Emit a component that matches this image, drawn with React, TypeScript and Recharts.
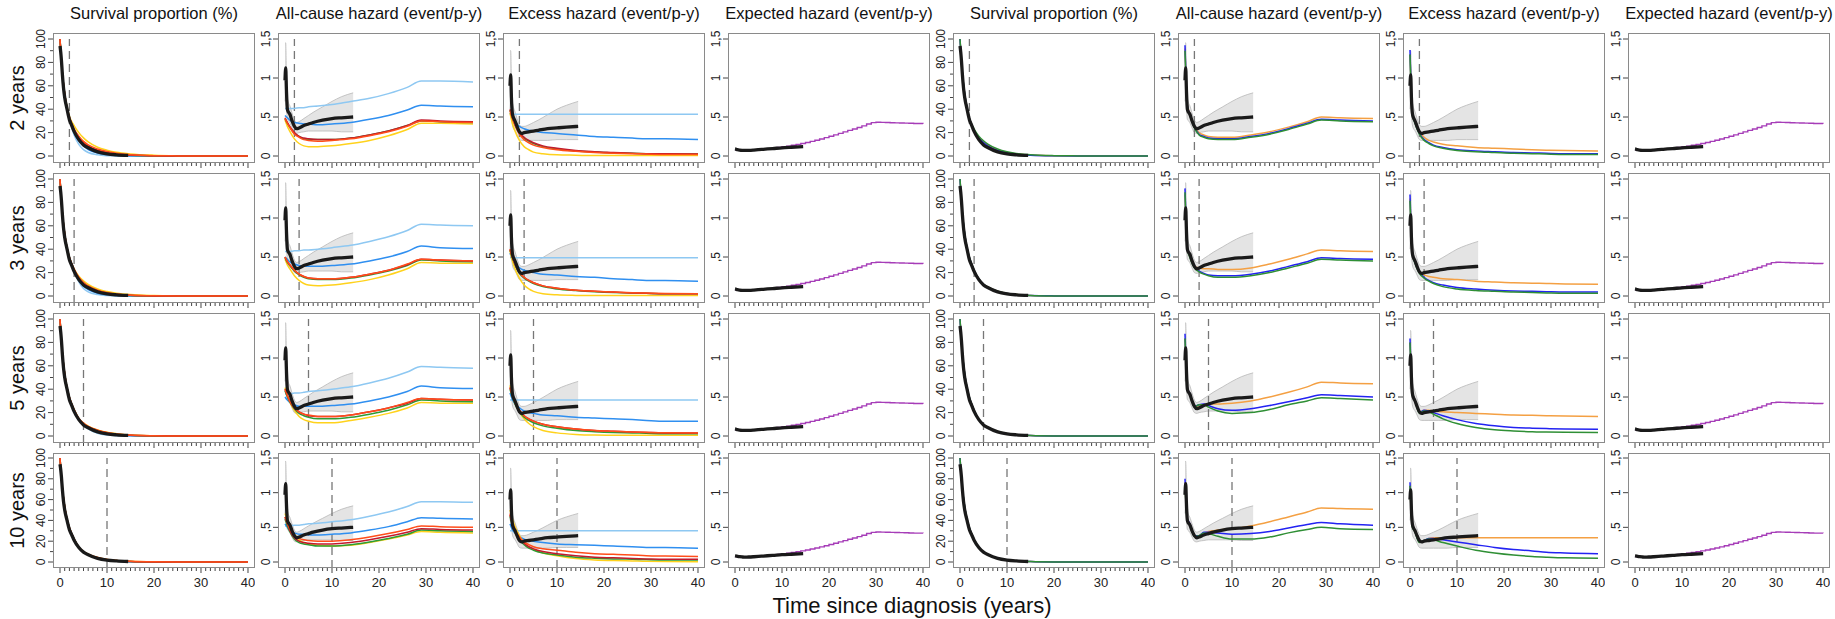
import React from "react";
import { ComposedChart, Line, Area, XAxis, YAxis, ReferenceLine } from "recharts";

// time grids (years since diagnosis)
const T_OBS = [0, 0.15, 0.3, 0.5, 0.75, 1, 1.5, 2, 2.5, 3, 4, 5, 6, 8, 10, 12, 14.5];
const T_SURV = [0, 0.5, 1, 1.5, 2, 3, 4, 5, 6, 8, 10, 12, 15, 20, 25, 30, 40];
const T_HAZ = [0, 0.5, 1, 2, 3, 4, 5, 7, 10, 14, 18, 22, 26, 29, 33, 40];
const YEARS = [0, 1, 2, 3, 4, 5, 6, 7, 8, 9, 10, 11, 12, 13, 14, 15, 16, 17, 18, 19, 20, 21, 22, 23, 24, 25, 26, 27, 28, 29, 30, 31, 32, 33, 34, 35, 36, 37, 38, 39, 40];

const HORIZONS = [2, 3, 5, 10];
const TITLES = [
  "Survival proportion (%)",
  "All-cause hazard (event/p-y)",
  "Excess hazard (event/p-y)",
  "Expected hazard (event/p-y)",
];

// observed (black) curves, identical in every row
const obsSurv = [94, 89, 82, 70, 58, 50, 40, 31, 26, 21, 14, 9.5, 7, 3.5, 1.8, 1, 0.5];
const obsAll = [0.97, 1.13, 0.85, 0.6, 0.56, 0.54, 0.45, 0.38, 0.35, 0.36, 0.39, 0.41, 0.43, 0.46, 0.48, 0.49, 0.5];
const obsAllLo = [0.7, 0.85, 0.65, 0.47, 0.45, 0.43, 0.36, 0.3, 0.29, 0.3, 0.31, 0.32, 0.32, 0.32, 0.32, 0.31, 0.31];
const obsAllHi = [1.45, 1.45, 1.05, 0.75, 0.68, 0.65, 0.55, 0.46, 0.43, 0.44, 0.48, 0.52, 0.56, 0.63, 0.7, 0.76, 0.81];
const obsExc = [0.9, 1.04, 0.75, 0.55, 0.49, 0.46, 0.38, 0.31, 0.29, 0.3, 0.31, 0.32, 0.33, 0.35, 0.36, 0.37, 0.38];
const obsExcLo = [0.6, 0.75, 0.55, 0.4, 0.35, 0.33, 0.27, 0.21, 0.2, 0.2, 0.2, 0.2, 0.2, 0.2, 0.21, 0.21, 0.21];
const obsExcHi = [1.35, 1.35, 1.0, 0.7, 0.62, 0.58, 0.48, 0.4, 0.38, 0.38, 0.4, 0.43, 0.46, 0.53, 0.6, 0.65, 0.7];
const obsExp = [0.09, 0.088, 0.085, 0.082, 0.078, 0.076, 0.073, 0.071, 0.071, 0.072, 0.076, 0.081, 0.086, 0.095, 0.105, 0.112, 0.12];

// population expected hazard, yearly life-table steps
const popExpected = [
  0.08, 0.076, 0.075, 0.077, 0.08, 0.084, 0.089, 0.095, 0.102, 0.11, 0.118, 0.127, 0.137, 0.148, 0.16,
  0.173, 0.187, 0.202, 0.218, 0.235, 0.253, 0.271, 0.29, 0.309, 0.328, 0.347, 0.366, 0.386, 0.41, 0.428,
  0.432, 0.431, 0.429, 0.427, 0.425, 0.423, 0.421, 0.419, 0.417, 0.416, 0.415,
];

// left models: light blue, blue, gold, green, dark red, orange-red
const LEFT_COLORS = ["#8ec8f2", "#2f8ff0", "#ffd21c", "#2e9b35", "#c21a2d", "#ff4d1a"];
// right models: orange, blue, green
const RIGHT_COLORS = ["#f4a043", "#2323f2", "#2f8f35"];

const survL2 = [
  [100, 71, 53, 41, 32, 18, 10, 5.5, 3, 1, 0.3, 0.1, 0, 0, 0, 0, 0],
  [100, 71, 53, 41, 32, 20, 13, 8.5, 5.5, 2.5, 1.2, 0.5, 0.1, 0, 0, 0, 0],
  [100, 71, 53, 42, 34, 26, 20, 15.5, 12, 7.5, 5, 3.2, 1.8, 0.7, 0.25, 0.1, 0],
  [100, 71, 53, 41, 33, 22, 15.5, 11, 8, 4.5, 2.6, 1.5, 0.6, 0.1, 0, 0, 0],
  [100, 71, 53, 41, 33, 22.5, 16, 11.5, 8.5, 5, 3, 1.8, 0.8, 0.2, 0, 0, 0],
  [100, 71, 53, 41, 33, 23, 17, 12.5, 9.5, 6, 3.8, 2.4, 1.1, 0.3, 0.1, 0, 0],
];
const survL3 = [
  [100, 71, 53, 41, 33, 22, 12, 6.5, 3.5, 1.2, 0.4, 0.1, 0, 0, 0, 0, 0],
  [100, 71, 53, 41, 33, 22, 13.5, 8.5, 5.5, 2.4, 1, 0.4, 0.1, 0, 0, 0, 0],
  [100, 71, 53, 41, 33, 23, 17, 13, 10, 6, 3.8, 2.4, 1.2, 0.4, 0.1, 0, 0],
  [100, 71, 53, 41, 33, 22.5, 15.5, 11, 8, 4.4, 2.4, 1.3, 0.5, 0.1, 0, 0, 0],
  [100, 71, 53, 41, 33, 22.5, 15.5, 11, 8.2, 4.6, 2.6, 1.5, 0.6, 0.1, 0, 0, 0],
  [100, 71, 53, 41, 33, 23, 16, 11.5, 8.6, 5, 2.9, 1.7, 0.7, 0.15, 0, 0, 0],
];
const survL5 = [
  [100, 71, 53, 41, 33, 22, 14, 9.5, 6, 2.3, 0.8, 0.3, 0.05, 0, 0, 0, 0],
  [100, 71, 53, 41, 33, 22, 14.5, 10, 7, 3.5, 1.7, 0.8, 0.25, 0, 0, 0, 0],
  [100, 71, 53, 41, 33, 22.5, 15, 11, 8.5, 5.2, 3.2, 2, 0.9, 0.25, 0.05, 0, 0],
  [100, 71, 53, 41, 33, 22, 14.5, 10.5, 7.8, 4.5, 2.6, 1.5, 0.6, 0.1, 0, 0, 0],
  [100, 71, 53, 41, 33, 22, 14.5, 10.5, 8, 4.7, 2.8, 1.6, 0.7, 0.15, 0, 0, 0],
  [100, 71, 53, 41, 33, 22.5, 15, 11, 8.3, 5, 3, 1.8, 0.8, 0.2, 0, 0, 0],
];
const survL10 = [
  [100, 71, 53, 41, 33, 22, 14, 9.5, 6.8, 3.3, 1.5, 0.6, 0.15, 0, 0, 0, 0],
  [100, 71, 53, 41, 33, 22, 14, 9.5, 7, 3.8, 2, 1, 0.35, 0.05, 0, 0, 0],
  [100, 71, 53, 41, 33, 22, 14.5, 10, 7.5, 4.3, 2.5, 1.5, 0.7, 0.15, 0, 0, 0],
  [100, 71, 53, 41, 33, 22, 14, 9.5, 7, 3.8, 2, 1.1, 0.4, 0.05, 0, 0, 0],
  [100, 71, 53, 41, 33, 22, 14, 9.7, 7.2, 4, 2.2, 1.2, 0.5, 0.1, 0, 0, 0],
  [100, 71, 53, 41, 33, 22, 14.3, 10, 7.5, 4.3, 2.5, 1.5, 0.7, 0.15, 0.03, 0, 0],
];

const allL2 = [
  [0.61, 0.61, 0.61, 0.61, 0.62, 0.62, 0.63, 0.64, 0.66, 0.7, 0.74, 0.8, 0.88, 0.96, 0.96, 0.95],
  [0.52, 0.49, 0.46, 0.43, 0.42, 0.41, 0.41, 0.4, 0.41, 0.43, 0.47, 0.52, 0.59, 0.65, 0.64, 0.63],
  [0.46, 0.38, 0.32, 0.22, 0.16, 0.13, 0.12, 0.12, 0.13, 0.16, 0.2, 0.26, 0.34, 0.42, 0.42, 0.41],
  [0.48, 0.42, 0.37, 0.29, 0.25, 0.22, 0.21, 0.21, 0.21, 0.23, 0.27, 0.32, 0.39, 0.45, 0.44, 0.43],
  [0.49, 0.43, 0.38, 0.3, 0.25, 0.23, 0.22, 0.21, 0.21, 0.23, 0.27, 0.32, 0.39, 0.46, 0.45, 0.44],
  [0.48, 0.42, 0.37, 0.28, 0.24, 0.21, 0.2, 0.19, 0.2, 0.22, 0.26, 0.31, 0.38, 0.45, 0.44, 0.43],
];
const allL3 = [
  [0.57, 0.57, 0.57, 0.58, 0.58, 0.59, 0.59, 0.6, 0.62, 0.65, 0.7, 0.76, 0.84, 0.92, 0.91, 0.9],
  [0.5, 0.47, 0.44, 0.41, 0.39, 0.38, 0.38, 0.38, 0.39, 0.41, 0.45, 0.5, 0.57, 0.64, 0.62, 0.61],
  [0.47, 0.4, 0.35, 0.26, 0.2, 0.16, 0.14, 0.13, 0.14, 0.17, 0.21, 0.27, 0.35, 0.43, 0.42, 0.42],
  [0.49, 0.43, 0.39, 0.32, 0.27, 0.24, 0.22, 0.21, 0.21, 0.23, 0.27, 0.32, 0.39, 0.46, 0.45, 0.44],
  [0.5, 0.44, 0.4, 0.33, 0.28, 0.25, 0.23, 0.22, 0.22, 0.24, 0.28, 0.33, 0.4, 0.47, 0.46, 0.45],
  [0.5, 0.44, 0.4, 0.33, 0.28, 0.25, 0.23, 0.22, 0.22, 0.24, 0.28, 0.33, 0.41, 0.47, 0.46, 0.45],
];
const allL5 = [
  [0.54, 0.54, 0.54, 0.55, 0.55, 0.56, 0.57, 0.58, 0.6, 0.63, 0.68, 0.74, 0.82, 0.89, 0.88, 0.87],
  [0.5, 0.46, 0.43, 0.4, 0.38, 0.38, 0.38, 0.38, 0.39, 0.41, 0.45, 0.5, 0.57, 0.64, 0.62, 0.61],
  [0.62, 0.52, 0.44, 0.33, 0.25, 0.21, 0.19, 0.17, 0.17, 0.2, 0.24, 0.29, 0.36, 0.43, 0.42, 0.42],
  [0.58, 0.5, 0.44, 0.35, 0.29, 0.26, 0.24, 0.22, 0.22, 0.24, 0.28, 0.33, 0.4, 0.46, 0.45, 0.44],
  [0.6, 0.52, 0.45, 0.36, 0.31, 0.28, 0.26, 0.25, 0.25, 0.27, 0.31, 0.36, 0.42, 0.48, 0.47, 0.46],
  [0.6, 0.52, 0.45, 0.36, 0.31, 0.28, 0.27, 0.25, 0.25, 0.27, 0.31, 0.36, 0.43, 0.48, 0.47, 0.46],
];
const allL10 = [
  [0.52, 0.52, 0.52, 0.53, 0.53, 0.54, 0.55, 0.56, 0.58, 0.61, 0.66, 0.72, 0.8, 0.87, 0.87, 0.86],
  [0.55, 0.5, 0.46, 0.42, 0.4, 0.4, 0.39, 0.39, 0.4, 0.42, 0.46, 0.51, 0.58, 0.64, 0.63, 0.62],
  [0.7, 0.6, 0.52, 0.4, 0.32, 0.28, 0.26, 0.24, 0.23, 0.24, 0.28, 0.33, 0.39, 0.44, 0.43, 0.42],
  [0.62, 0.52, 0.44, 0.33, 0.28, 0.26, 0.25, 0.23, 0.23, 0.25, 0.29, 0.34, 0.4, 0.46, 0.45, 0.44],
  [0.65, 0.55, 0.46, 0.35, 0.3, 0.28, 0.27, 0.26, 0.26, 0.28, 0.32, 0.37, 0.43, 0.48, 0.47, 0.46],
  [0.65, 0.56, 0.48, 0.38, 0.34, 0.32, 0.31, 0.3, 0.3, 0.32, 0.36, 0.41, 0.47, 0.52, 0.51, 0.5],
];

const excL2 = [
  [0.535, 0.535, 0.535, 0.535, 0.535, 0.535, 0.535, 0.535, 0.535, 0.535, 0.535, 0.535, 0.535, 0.535, 0.535, 0.535],
  [0.55, 0.48, 0.44, 0.38, 0.35, 0.33, 0.32, 0.3, 0.29, 0.27, 0.25, 0.24, 0.23, 0.22, 0.22, 0.21],
  [0.55, 0.42, 0.33, 0.2, 0.12, 0.08, 0.05, 0.03, 0.015, 0.01, 0.005, 0.005, 0.005, 0.005, 0.005, 0.005],
  [0.59, 0.49, 0.41, 0.29, 0.23, 0.19, 0.16, 0.12, 0.09, 0.065, 0.05, 0.04, 0.035, 0.03, 0.025, 0.025],
  [0.6, 0.5, 0.42, 0.3, 0.24, 0.2, 0.17, 0.13, 0.1, 0.07, 0.055, 0.045, 0.035, 0.03, 0.028, 0.025],
  [0.58, 0.48, 0.4, 0.28, 0.21, 0.17, 0.14, 0.11, 0.08, 0.06, 0.045, 0.035, 0.03, 0.025, 0.02, 0.02],
];
const excL3 = [
  [0.49, 0.49, 0.49, 0.49, 0.49, 0.49, 0.49, 0.49, 0.49, 0.49, 0.49, 0.49, 0.49, 0.49, 0.49, 0.49],
  [0.55, 0.47, 0.42, 0.36, 0.33, 0.31, 0.3, 0.28, 0.27, 0.25, 0.24, 0.22, 0.21, 0.2, 0.2, 0.19],
  [0.58, 0.45, 0.36, 0.23, 0.14, 0.09, 0.06, 0.03, 0.015, 0.008, 0.005, 0.005, 0.005, 0.005, 0.005, 0.005],
  [0.59, 0.49, 0.41, 0.29, 0.23, 0.19, 0.16, 0.12, 0.09, 0.07, 0.055, 0.045, 0.04, 0.035, 0.03, 0.03],
  [0.6, 0.5, 0.42, 0.3, 0.24, 0.2, 0.17, 0.13, 0.1, 0.075, 0.06, 0.05, 0.04, 0.035, 0.03, 0.03],
  [0.6, 0.5, 0.42, 0.3, 0.24, 0.2, 0.17, 0.13, 0.1, 0.075, 0.06, 0.05, 0.042, 0.037, 0.033, 0.03],
];
const excL5 = [
  [0.46, 0.46, 0.46, 0.46, 0.46, 0.46, 0.46, 0.46, 0.46, 0.46, 0.46, 0.46, 0.46, 0.46, 0.46, 0.46],
  [0.55, 0.47, 0.42, 0.36, 0.32, 0.3, 0.29, 0.27, 0.26, 0.24, 0.23, 0.22, 0.21, 0.2, 0.19, 0.19],
  [0.65, 0.53, 0.44, 0.31, 0.22, 0.16, 0.12, 0.07, 0.04, 0.02, 0.012, 0.01, 0.01, 0.01, 0.01, 0.01],
  [0.6, 0.5, 0.42, 0.31, 0.24, 0.2, 0.17, 0.13, 0.1, 0.07, 0.055, 0.045, 0.04, 0.035, 0.03, 0.03],
  [0.62, 0.52, 0.44, 0.33, 0.26, 0.22, 0.19, 0.15, 0.12, 0.09, 0.07, 0.06, 0.05, 0.045, 0.04, 0.04],
  [0.62, 0.52, 0.44, 0.33, 0.26, 0.22, 0.19, 0.15, 0.12, 0.09, 0.072, 0.062, 0.052, 0.047, 0.042, 0.04],
];
const excL10 = [
  [0.45, 0.45, 0.45, 0.45, 0.45, 0.45, 0.45, 0.45, 0.45, 0.45, 0.45, 0.45, 0.45, 0.45, 0.45, 0.45],
  [0.55, 0.47, 0.42, 0.37, 0.33, 0.31, 0.3, 0.28, 0.26, 0.25, 0.24, 0.23, 0.22, 0.21, 0.21, 0.2],
  [0.75, 0.62, 0.52, 0.38, 0.28, 0.22, 0.18, 0.13, 0.09, 0.05, 0.03, 0.02, 0.015, 0.01, 0.008, 0.005],
  [0.66, 0.53, 0.44, 0.32, 0.25, 0.2, 0.17, 0.13, 0.1, 0.07, 0.055, 0.045, 0.04, 0.035, 0.03, 0.03],
  [0.68, 0.55, 0.46, 0.34, 0.27, 0.22, 0.19, 0.15, 0.12, 0.09, 0.07, 0.06, 0.05, 0.045, 0.04, 0.04],
  [0.7, 0.57, 0.48, 0.36, 0.29, 0.25, 0.22, 0.19, 0.17, 0.14, 0.12, 0.11, 0.1, 0.09, 0.085, 0.08],
];

const survR2 = [
  [100, 71, 53, 41, 32, 22, 16, 12, 9, 5, 3, 1.8, 0.8, 0.2, 0, 0, 0],
  [100, 71, 53, 41, 32, 21.5, 15.5, 11.5, 8.5, 4.8, 2.8, 1.6, 0.7, 0.15, 0, 0, 0],
  [100, 71, 53, 41, 32, 23, 17, 13, 10, 6, 3.6, 2.2, 1, 0.3, 0.1, 0, 0],
];
const survR3 = [
  [100, 71, 53, 41, 33, 22, 14.5, 10, 7.5, 4, 2.2, 1.2, 0.5, 0.1, 0, 0, 0],
  [100, 71, 53, 41, 33, 22, 14.5, 10, 7.3, 3.9, 2.1, 1.1, 0.45, 0.1, 0, 0, 0],
  [100, 71, 53, 41, 33, 22, 14.5, 10, 7.5, 4, 2.2, 1.2, 0.5, 0.1, 0, 0, 0],
];
const survR5 = [
  [100, 71, 53, 41, 33, 22, 14, 9.8, 7.2, 3.8, 2, 1.1, 0.4, 0.05, 0, 0, 0],
  [100, 71, 53, 41, 33, 22, 14, 9.6, 7, 3.6, 1.9, 1, 0.35, 0.05, 0, 0, 0],
  [100, 71, 53, 41, 33, 22, 14, 9.8, 7.2, 3.8, 2, 1.1, 0.4, 0.05, 0, 0, 0],
];
const survR10 = [
  [100, 71, 53, 41, 33, 21.5, 14, 9.5, 7, 3.6, 1.9, 1, 0.4, 0.05, 0, 0, 0],
  [100, 71, 53, 41, 33, 21.5, 14, 9.5, 7, 3.6, 1.9, 1, 0.4, 0.05, 0, 0, 0],
  [100, 71, 53, 41, 33, 21.5, 14, 9.5, 7, 3.6, 1.9, 1, 0.4, 0.05, 0, 0, 0],
];

const allR2 = [
  [1.38, 0.66, 0.55, 0.38, 0.3, 0.27, 0.25, 0.24, 0.24, 0.27, 0.31, 0.37, 0.44, 0.5, 0.49, 0.48],
  [1.42, 0.65, 0.54, 0.37, 0.28, 0.25, 0.23, 0.22, 0.22, 0.25, 0.29, 0.35, 0.42, 0.47, 0.46, 0.45],
  [1.35, 0.64, 0.53, 0.36, 0.27, 0.24, 0.22, 0.21, 0.21, 0.24, 0.28, 0.34, 0.41, 0.46, 0.45, 0.44],
];
const allR3 = [
  [1.3, 0.62, 0.52, 0.38, 0.36, 0.35, 0.35, 0.34, 0.34, 0.36, 0.41, 0.47, 0.54, 0.59, 0.58, 0.57],
  [1.38, 0.62, 0.52, 0.37, 0.32, 0.29, 0.27, 0.26, 0.26, 0.28, 0.32, 0.38, 0.44, 0.49, 0.48, 0.47],
  [1.33, 0.6, 0.5, 0.36, 0.31, 0.28, 0.26, 0.24, 0.24, 0.26, 0.3, 0.36, 0.42, 0.47, 0.46, 0.45],
];
const allR5 = [
  [1.25, 0.62, 0.55, 0.38, 0.38, 0.4, 0.41, 0.41, 0.42, 0.45, 0.5, 0.56, 0.63, 0.69, 0.68, 0.67],
  [1.31, 0.62, 0.55, 0.38, 0.4, 0.41, 0.39, 0.35, 0.33, 0.35, 0.39, 0.44, 0.49, 0.53, 0.52, 0.5],
  [1.25, 0.6, 0.54, 0.37, 0.4, 0.4, 0.37, 0.32, 0.29, 0.3, 0.34, 0.4, 0.45, 0.49, 0.48, 0.46],
];
const allR10 = [
  [1.15, 0.62, 0.56, 0.38, 0.38, 0.42, 0.44, 0.46, 0.48, 0.52, 0.58, 0.65, 0.72, 0.78, 0.77, 0.76],
  [1.2, 0.62, 0.56, 0.38, 0.38, 0.43, 0.43, 0.42, 0.4, 0.41, 0.44, 0.49, 0.54, 0.57, 0.55, 0.53],
  [1.12, 0.6, 0.55, 0.37, 0.38, 0.42, 0.41, 0.37, 0.33, 0.33, 0.36, 0.42, 0.47, 0.5, 0.48, 0.47],
];

const excR2 = [
  [1.3, 0.55, 0.45, 0.31, 0.24, 0.2, 0.18, 0.15, 0.13, 0.11, 0.1, 0.09, 0.08, 0.075, 0.07, 0.065],
  [1.36, 0.55, 0.44, 0.29, 0.21, 0.17, 0.14, 0.11, 0.08, 0.065, 0.055, 0.045, 0.04, 0.035, 0.03, 0.03],
  [1.3, 0.53, 0.43, 0.28, 0.2, 0.16, 0.13, 0.1, 0.07, 0.055, 0.045, 0.035, 0.03, 0.025, 0.02, 0.02],
];
const excR3 = [
  [1.25, 0.55, 0.45, 0.31, 0.27, 0.25, 0.24, 0.22, 0.21, 0.19, 0.18, 0.17, 0.165, 0.16, 0.155, 0.15],
  [1.3, 0.55, 0.44, 0.3, 0.24, 0.2, 0.17, 0.14, 0.11, 0.09, 0.075, 0.065, 0.06, 0.055, 0.05, 0.05],
  [1.22, 0.53, 0.43, 0.29, 0.23, 0.19, 0.16, 0.12, 0.09, 0.07, 0.06, 0.05, 0.045, 0.04, 0.035, 0.035],
];
const excR5 = [
  [1.2, 0.55, 0.47, 0.3, 0.33, 0.33, 0.32, 0.31, 0.3, 0.29, 0.28, 0.27, 0.265, 0.26, 0.255, 0.25],
  [1.25, 0.55, 0.47, 0.3, 0.33, 0.32, 0.3, 0.26, 0.21, 0.16, 0.13, 0.11, 0.1, 0.095, 0.09, 0.085],
  [1.2, 0.53, 0.46, 0.29, 0.32, 0.31, 0.28, 0.22, 0.16, 0.11, 0.08, 0.065, 0.055, 0.05, 0.048, 0.045],
];
const excR10 = [
  [1.1, 0.52, 0.45, 0.29, 0.31, 0.34, 0.35, 0.35, 0.35, 0.35, 0.35, 0.35, 0.35, 0.35, 0.35, 0.35],
  [1.15, 0.52, 0.45, 0.29, 0.31, 0.34, 0.34, 0.32, 0.29, 0.25, 0.21, 0.18, 0.16, 0.14, 0.13, 0.12],
  [1.1, 0.5, 0.44, 0.28, 0.31, 0.33, 0.32, 0.28, 0.23, 0.17, 0.13, 0.1, 0.08, 0.07, 0.06, 0.055],
];

const SURV_L = [survL2, survL3, survL5, survL10];
const ALL_L = [allL2, allL3, allL5, allL10];
const EXC_L = [excL2, excL3, excL5, excL10];
const SURV_R = [survR2, survR3, survR5, survR10];
const ALL_R = [allR2, allR3, allR5, allR10];
const EXC_R = [excR2, excR3, excR5, excR10];

// layout (px)
const COL_LEFT = [53, 278, 503, 728, 953, 1178, 1403, 1628];
const PANEL_W = 202;
const ROW_TOP = [33, 173, 313, 453];
const ROW_H = [130, 130, 130, 115];
const PAD_T = [6, 6, 6, 5];
const PAD_B = [7, 7, 7, 6];
const X_DOMAIN: [number, number] = [-1.49, 41.49];
const ML = 34;
const MT = 12;
const FONT = "'Liberation Sans', Arial, Helvetica, sans-serif";

const pts = (xs: number[], ys: number[]) => xs.map((t, i) => ({ t, v: ys[i] }));
const bandPts = (xs: number[], lo: number[], hi: number[]) =>
  xs.map((t, i) => ({ t, band: [lo[i], hi[i]] }));

const hazLabel = (v: number) => (v === 0 ? "0" : v === 0.5 ? ",5" : v === 1 ? "1" : "1,5");

type Kind = "surv" | "all" | "exc" | "exp";

function Panel({ row, col, kind, models, colors }: {
  row: number;
  col: number;
  kind: Kind;
  models?: number[][];
  colors?: string[];
}) {
  const left = COL_LEFT[col];
  const top = ROW_TOP[row];
  const h = ROW_H[row];
  const bottom = row === 3;
  const MB = bottom ? 28 : 8;
  const hi = kind === "surv" ? 100 : 1.5;
  const scale = (h - PAD_T[row] - PAD_B[row]) / hi;
  const yDomain: [number, number] = [-PAD_B[row] / scale, hi + PAD_T[row] / scale];
  const yTicks = kind === "surv" ? [0, 10, 20, 30, 40, 50, 60, 70, 80, 90, 100] : [0, 0.5, 1, 1.5];
  const horizon = HORIZONS[row];

  const XTick = (p: any) => {
    const v = p.payload.value;
    const major = v % 10 === 0;
    return (
      <g>
        <line x1={p.x} x2={p.x} y1={p.y} y2={p.y + (major ? 5 : 3)} stroke="#444" strokeWidth={1} />
        {bottom && major && (
          <text x={p.x} y={p.y + 19} textAnchor="middle" fontSize={13} fill="#222" fontFamily={FONT}>
            {v}
          </text>
        )}
      </g>
    );
  };
  const YTick = (p: any) => {
    const v = p.payload.value;
    const labelled = kind === "surv" ? v % 20 === 0 : true;
    const tx = p.x - 8;
    return (
      <g>
        <line x1={p.x - (labelled ? 5 : 3)} x2={p.x} y1={p.y} y2={p.y} stroke="#444" strokeWidth={1} />
        {labelled && (
          <text
            x={tx}
            y={p.y}
            transform={`rotate(-90 ${tx} ${p.y})`}
            textAnchor="middle"
            fontSize={12}
            fill="#222"
            fontFamily={FONT}
          >
            {kind === "surv" ? v : hazLabel(v)}
          </text>
        )}
      </g>
    );
  };

  const tGrid = kind === "surv" ? T_SURV : T_HAZ;
  const black = kind === "surv" ? obsSurv : kind === "all" ? obsAll : kind === "exc" ? obsExc : obsExp;
  const band =
    kind === "all"
      ? bandPts(T_OBS, obsAllLo, obsAllHi)
      : kind === "exc"
      ? bandPts(T_OBS, obsExcLo, obsExcHi)
      : null;

  return (
    <div style={{ position: "absolute", left: left - ML, top: top - MT, width: PANEL_W + ML, height: h + MB + MT }}>
      <ComposedChart width={PANEL_W + ML} height={h + MB + MT} margin={{ top: MT, right: 0, bottom: 0, left: 0 }}>
        <XAxis
          type="number"
          dataKey="t"
          domain={X_DOMAIN}
          ticks={YEARS}
          interval={0}
          height={MB}
          axisLine={false}
          tickLine={false}
          tickSize={0}
          tickMargin={0}
          allowDataOverflow
          tick={XTick}
        />
        <YAxis
          type="number"
          domain={yDomain}
          ticks={yTicks}
          interval={0}
          width={ML}
          axisLine={false}
          tickLine={false}
          tickSize={0}
          tickMargin={0}
          allowDataOverflow
          tick={YTick}
        />
        {band && (
          <Area
            data={band}
            dataKey="band"
            type="monotone"
            fill="#c4c4c4"
            fillOpacity={0.45}
            stroke="#b8b8b8"
            strokeWidth={0.8}
            isAnimationActive={false}
          />
        )}
        {kind !== "exp" && (
          <ReferenceLine
            segment={[
              { x: horizon, y: yDomain[0] },
              { x: horizon, y: hi },
            ]}
            stroke="#777"
            strokeWidth={1.3}
            strokeDasharray="8 5"
          />
        )}
        {kind === "exp" && (
          <Line
            data={pts(YEARS, popExpected)}
            dataKey="v"
            type="stepAfter"
            stroke="#a63db8"
            strokeWidth={1.4}
            dot={false}
            isAnimationActive={false}
          />
        )}
        {models &&
          colors &&
          models.map((m, i) => (
            <Line
              key={i}
              data={pts(tGrid, m)}
              dataKey="v"
              type="monotone"
              stroke={colors[i]}
              strokeWidth={1.5}
              dot={false}
              isAnimationActive={false}
            />
          ))}
        <Line
          data={pts(T_OBS, black)}
          dataKey="v"
          type="monotone"
          stroke="#1a1a1a"
          strokeWidth={3.3}
          dot={false}
          isAnimationActive={false}
        />
      </ComposedChart>
      <div
        style={{
          position: "absolute",
          left: ML,
          top: MT,
          width: PANEL_W,
          height: h,
          border: "1.4px solid #8a8a8a",
          boxSizing: "border-box",
          pointerEvents: "none",
        }}
      />
    </div>
  );
}

export default function App() {
  const panels: React.ReactNode[] = [];
  for (let r = 0; r < 4; r++) {
    panels.push(<Panel key={`${r}-0`} row={r} col={0} kind="surv" models={SURV_L[r]} colors={LEFT_COLORS} />);
    panels.push(<Panel key={`${r}-1`} row={r} col={1} kind="all" models={ALL_L[r]} colors={LEFT_COLORS} />);
    panels.push(<Panel key={`${r}-2`} row={r} col={2} kind="exc" models={EXC_L[r]} colors={LEFT_COLORS} />);
    panels.push(<Panel key={`${r}-3`} row={r} col={3} kind="exp" />);
    panels.push(<Panel key={`${r}-4`} row={r} col={4} kind="surv" models={SURV_R[r]} colors={RIGHT_COLORS} />);
    panels.push(<Panel key={`${r}-5`} row={r} col={5} kind="all" models={ALL_R[r]} colors={RIGHT_COLORS} />);
    panels.push(<Panel key={`${r}-6`} row={r} col={6} kind="exc" models={EXC_R[r]} colors={RIGHT_COLORS} />);
    panels.push(<Panel key={`${r}-7`} row={r} col={7} kind="exp" />);
  }

  return (
    <div style={{ position: "absolute", left: 0, top: 0, width: 1835, height: 619, background: "#fff" }}>
      <svg width={1835} height={619} style={{ position: "absolute", left: 0, top: 0 }}>
        {COL_LEFT.map((x, i) => (
          <text key={i} x={x + PANEL_W / 2} y={19} textAnchor="middle" fontSize={16.5} fill="#111" fontFamily={FONT}>
            {TITLES[i % 4]}
          </text>
        ))}
        {ROW_TOP.map((y, i) => {
          const cy = y + ROW_H[i] / 2;
          return (
            <text
              key={i}
              x={24}
              y={cy}
              transform={`rotate(-90 24 ${cy})`}
              textAnchor="middle"
              fontSize={20}
              fill="#111"
              fontFamily={FONT}
            >
              {`${HORIZONS[i]} years`}
            </text>
          );
        })}
        <text x={912} y={613} textAnchor="middle" fontSize={22} fill="#111" fontFamily={FONT}>
          Time since diagnosis (years)
        </text>
      </svg>
      {panels}
    </div>
  );
}
